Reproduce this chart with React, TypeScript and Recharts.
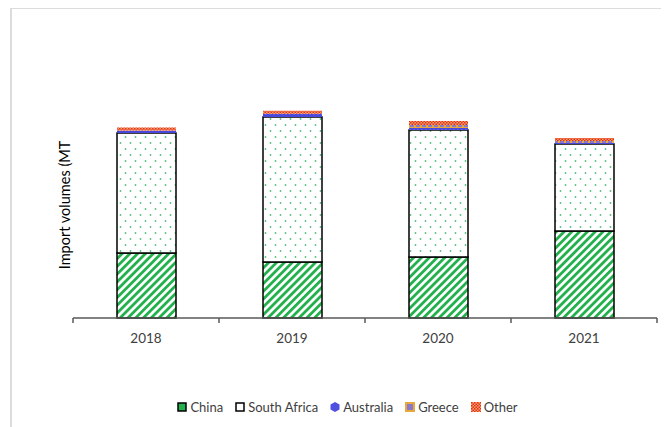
import { BarChart, Bar, XAxis, YAxis, Legend, Label } from "recharts";

const years = ["2018", "2019", "2020", "2021"];
// import volumes, thousand MT (no axis in source)
const china = [650, 560, 610, 870];
const southAfrica = [1200, 1450, 1270, 870];
const australia = [20, 30, 20, 10];
const greece = [5, 3, 30, 20];
const other = [30, 30, 40, 30];

const seriesNames = ["China", "South Africa", "Australia", "Greece", "Other"];

const data = years.map((year, i) => ({
  year,
  China: china[i],
  "South Africa": southAfrica[i],
  Australia: australia[i],
  Greece: greece[i],
  Other: other[i],
}));

const fills: Record<string, string> = {
  China: "url(#pChina)",
  "South Africa": "url(#pSA)",
  Australia: "url(#pAus)",
  Greece: "url(#pGreece)",
  Other: "url(#pOther)",
};

const FONT = "Lato, 'Open Sans', sans-serif";

function XTick(props: any) {
  const { x, y, payload, index, visibleTicksCount } = props;
  const half = payload?.offset || 73;
  const axisY = y - 15;
  return (
    <g>
      <line x1={x - half} x2={x - half} y1={axisY} y2={axisY + 5} stroke="#595959" strokeWidth={1.5} />
      {index === visibleTicksCount - 1 && (
        <line x1={x + half} x2={x + half} y1={axisY} y2={axisY + 5} stroke="#595959" strokeWidth={1.5} />
      )}
      <text x={x} y={y} dy="0.71em" textAnchor="middle" fill="#404040" fontSize={13.5} fontFamily={FONT}>
        {payload.value}
      </text>
    </g>
  );
}

function LegendIcon({ name }: { name: string }) {
  if (name === "Australia") {
    return (
      <svg width={10} height={10} style={{ marginRight: 3 }}>
        <polygon points="5,0 9.5,2.5 9.5,7.5 5,10 0.5,7.5 0.5,2.5" fill="#5050e0" />
      </svg>
    );
  }
  if (name === "Greece") {
    return (
      <svg width={10} height={10} style={{ marginRight: 3 }}>
        <rect x={1} y={1} width={8} height={8} fill="#8a78c8" stroke="#e8a83a" strokeWidth={2} />
      </svg>
    );
  }
  if (name === "Other") {
    return (
      <svg width={10} height={10} style={{ marginRight: 3 }}>
        <rect x={0} y={0} width={10} height={10} fill="url(#pOther)" />
      </svg>
    );
  }
  return (
    <svg width={10} height={10} style={{ marginRight: 3 }}>
      <rect x={1} y={1} width={8} height={8} fill={name === "China" ? "#22b14c" : "#fff"} stroke="#000" strokeWidth={1.5} />
    </svg>
  );
}

function LegendContent() {
  return (
    <div style={{ display: "flex", justifyContent: "center", height: 20, alignItems: "center", paddingLeft: 30 }}>
      {seriesNames.map((n) => (
        <div key={n} style={{ display: "flex", alignItems: "center", marginRight: 12, fontSize: 13, color: "#404040", fontFamily: FONT }}>
          <LegendIcon name={n} />
          <span>{n}</span>
        </div>
      ))}
    </div>
  );
}

export default function App() {
  return (
    <div style={{ position: "relative", width: 661, height: 419, background: "#fff" }}>
      <div
        style={{
          position: "absolute",
          top: -1,
          left: 2,
          right: 0,
          bottom: 0,
          borderTop: "2px solid #dcdcdc",
          borderLeft: "2px solid #dcdcdc",
          pointerEvents: "none",
        }}
      />
      <BarChart width={661} height={419} data={data} margin={{ top: 84, right: 12, left: 0, bottom: 59 }}>
        <defs>
          <pattern id="pChina" width={5.5} height={5.5} patternUnits="userSpaceOnUse" patternTransform="rotate(45)">
            <rect width={5.5} height={5.5} fill="#fff" />
            <rect width={2.8} height={5.5} fill="#22b14c" />
          </pattern>
          <pattern id="pSA" width={10} height={12} patternUnits="userSpaceOnUse">
            <rect width={10} height={12} fill="#fff" />
            <circle cx={2.5} cy={3} r={0.9} fill="#55bf80" />
            <circle cx={7.5} cy={9} r={0.9} fill="#55bf80" />
          </pattern>
          <pattern id="pAus" width={4} height={4} patternUnits="userSpaceOnUse">
            <rect width={4} height={4} fill="#4848dc" />
            <circle cx={2} cy={2} r={0.8} fill="#7a7aee" />
          </pattern>
          <pattern id="pGreece" width={6} height={4} patternUnits="userSpaceOnUse">
            <rect width={6} height={4} fill="#e8a83a" />
            <rect x={0} y={1} width={4} height={2} fill="#8a78c8" />
          </pattern>
          <pattern id="pOther" width={3} height={3} patternUnits="userSpaceOnUse">
            <rect width={3} height={3} fill="#f5a25a" />
            <rect width={1.5} height={1.5} fill="#e52a2a" />
            <rect x={1.5} y={1.5} width={1.5} height={1.5} fill="#e52a2a" />
          </pattern>
        </defs>
        <XAxis
          dataKey="year"
          height={30}
          tickLine={false}
          tickSize={5}
          tickMargin={10}
          axisLine={{ stroke: "#595959", strokeWidth: 1.5 }}
          tick={<XTick />}
        />
        <YAxis width={65} domain={[0, 2260]} axisLine={false} tickLine={false} tick={false}>
          <Label
            content={(p: any) => {
              const vb = p.viewBox || { x: 0, y: 0, width: 65, height: 226 };
              const cx = vb.x + 56;
              const cy = vb.y + vb.height / 2;
              return (
                <text
                  x={cx}
                  y={cy}
                  transform={`rotate(-90, ${cx}, ${cy})`}
                  textAnchor="middle"
                  dominantBaseline="central"
                  fill="#000"
                  fontSize={14.5}
                  fontFamily={FONT}
                >
                  Import volumes (MT
                </text>
              );
            }}
          />
        </YAxis>
        <Legend verticalAlign="bottom" content={<LegendContent />} wrapperStyle={{ left: 0, width: 661, bottom: 10 }} />
        {seriesNames.map((n) => (
          <Bar
            key={n}
            dataKey={n}
            stackId="a"
            barSize={59}
            fill={fills[n]}
            stroke={n === "China" || n === "South Africa" ? "#000" : "none"}
            strokeWidth={1.5}
            isAnimationActive={false}
          />
        ))}
      </BarChart>
    </div>
  );
}
